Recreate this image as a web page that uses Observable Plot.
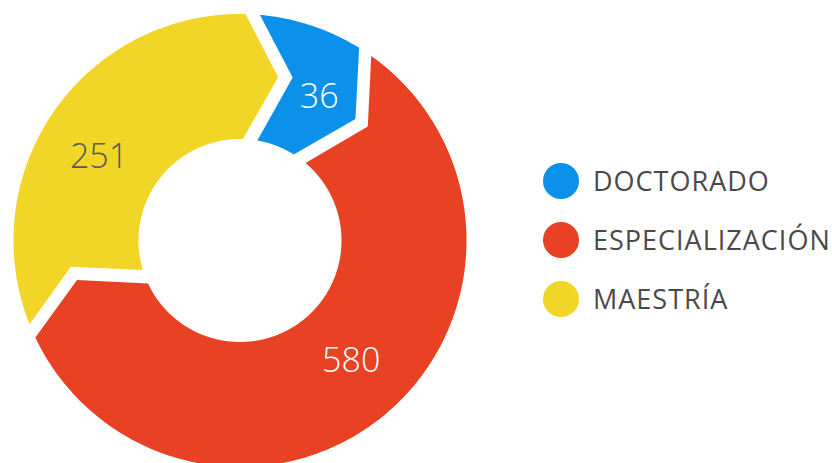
<!DOCTYPE html>
<html>
<head>
<meta charset="utf-8">
<script src="https://cdn.jsdelivr.net/npm/d3@7"></script>
<script src="https://cdn.jsdelivr.net/npm/@observablehq/plot@0.6"></script>
<style>
  html, body { margin: 0; padding: 0; background: #fff; }
  #wrap { position: relative; width: 832px; height: 463px; overflow: hidden; font-family: "Open Sans", sans-serif; }
  #chart { position: absolute; left: 0; top: 0; }
  #legend { position: absolute; left: 543px; top: 151px; }
  .item { display: flex; align-items: center; height: 59px; }
  .sw { width: 36px; height: 36px; border-radius: 50%; flex: none; }
  .lab { margin-left: 14px; font-size: 27px; color: #4a4a4a; letter-spacing: 1px; font-weight: 400; line-height: 1; }
</style>
</head>
<body>
<div id="wrap">
  <div id="chart"></div>
  <div id="legend"></div>
</div>
<script>
// ---- data ----
const categories = ["DOCTORADO", "ESPECIALIZACIÓN", "MAESTRÍA"];
const values = [36, 580, 251];
// share of the ring each slice occupies in the picture (percent)
const arcShare = [8.43, 59.14, 32.43];
const colors = ["#0b91ea", "#e84123", "#f1d527"];
const labelColors = ["#ffffff", "#ffffff", "#595959"];

// ---- drawing options ----
const W = 832, H = 463;
const cx = 239.5, cy = 240;      // ring centre in px
const R = 226.5, r0 = 101.5, Rm = 164;
const startDeg = 1.2;            // where the first slice begins (clockwise from 12 o'clock)
const lineOff = 8;               // chevron base line offset
const tipOff = 42;               // chevron tip offset at mid radius
const halfGap = 7.25;            // half of the white gap
const labelNudge = [12.5, -0.7, -2.1]; // degrees

const rad = Math.PI / 180;
function pt(phiDeg, s, tang) {
  const p = phiDeg * rad;
  return [s * Math.sin(p) + tang * Math.cos(p), -s * Math.cos(p) + tang * Math.sin(p)];
}
function edgeAngle(phiDeg, r, off) {
  return phiDeg + Math.atan2(off, Math.sqrt(r * r - off * off)) / rad;
}

// boundaries
const bounds = [startDeg];
arcShare.forEach(s => bounds.push(bounds[bounds.length - 1] + s / 100 * 360));

const poly = [];
categories.forEach((cat, i) => {
  const ps = bounds[i], pe = bounds[i + 1];
  const es = lineOff + halfGap, ee = lineOff - halfGap;
  const a1 = edgeAngle(ps, R, es), a2 = edgeAngle(pe, R, ee);
  const b1 = edgeAngle(ps, r0, es), b2 = edgeAngle(pe, r0, ee);
  const pts = [];
  const n1 = Math.max(2, Math.ceil((a2 - a1) / 0.5));
  for (let k = 0; k <= n1; k++) pts.push(pt(a1 + (a2 - a1) * k / n1, R, 0));
  pts.push(pt(pe, Rm, tipOff - halfGap));
  const n2 = Math.max(2, Math.ceil((b2 - b1) / 0.5));
  for (let k = 0; k <= n2; k++) pts.push(pt(b2 - (b2 - b1) * k / n2, r0, 0));
  pts.push(pt(ps, Rm, tipOff + halfGap));
  pts.forEach(([x, y]) => poly.push({cat, x, y}));
});

const labels = categories.map((cat, i) => {
  const mid = (bounds[i] + bounds[i + 1]) / 2 + labelNudge[i];
  const [x, y] = pt(mid, Rm, 0);
  return {cat, x, y, text: String(values[i]), color: labelColors[i]};
});

const chart = Plot.plot({
  width: W, height: H,
  margin: 0,
  style: {fontFamily: "'Open Sans', sans-serif", background: "transparent"},
  x: {domain: [-cx, W - cx], range: [0, W], axis: null},
  y: {domain: [-cy, H - cy], range: [0, H], axis: null},
  color: {domain: categories, range: colors},
  marks: [
    Plot.line(poly, {x: "x", y: "y", z: "cat", fill: "cat", stroke: null, curve: "linear-closed"}),
    Plot.text(labels.filter(d => d.color === "#ffffff"), {x: "x", y: "y", text: "text", fill: "#ffffff", fontSize: 34, fontWeight: 300}),
    Plot.text(labels.filter(d => d.color !== "#ffffff"), {x: "x", y: "y", text: "text", fill: "#595959", fontSize: 34, fontWeight: 300})
  ]
});
document.getElementById("chart").appendChild(chart);

const legend = document.getElementById("legend");
categories.forEach((cat, i) => {
  const it = document.createElement("div");
  it.className = "item";
  it.innerHTML = `<div class="sw" style="background:${colors[i]}"></div><div class="lab">${cat}</div>`;
  legend.appendChild(it);
});
</script>
</body>
</html>
